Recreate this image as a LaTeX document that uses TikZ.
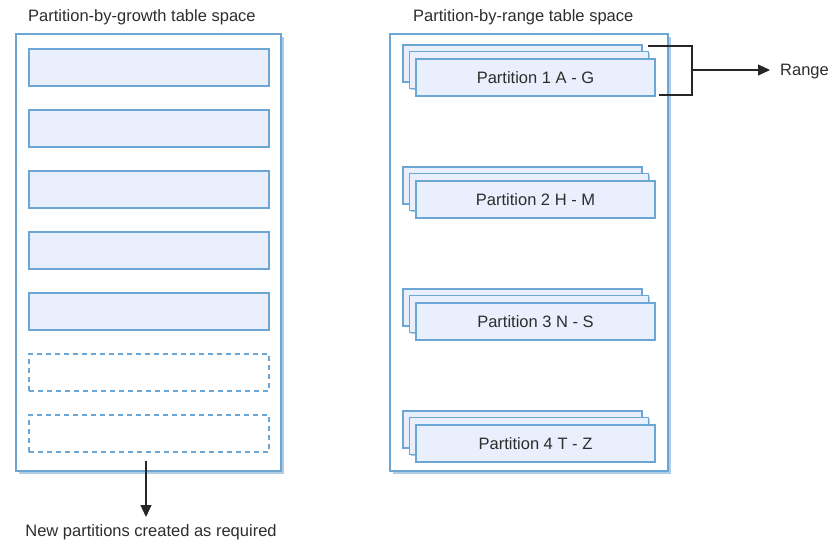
\documentclass[tikz,border=0pt]{standalone}
\usepackage{fontspec}
\setmainfont{Liberation Sans}
\usetikzlibrary{arrows.meta,shadows}
\definecolor{boxblue}{RGB}{108,166,212}
\definecolor{boxfill}{RGB}{233,239,252}
\definecolor{shadowblue}{RGB}{175,205,230}
\definecolor{txt}{RGB}{45,45,45}
\tikzset{
  container/.style={draw=boxblue, line width=1.1pt, fill=white, minimum width=265pt, minimum height=437pt, inner sep=0pt,
    general shadow={fill=shadowblue, shadow xshift=2.5pt, shadow yshift=-2.5pt}},
  part/.style={draw=boxblue, line width=1.1pt, fill=boxfill, minimum width=240pt, minimum height=37pt, inner sep=0pt,
    general shadow={fill=shadowblue, shadow xshift=1.2pt, shadow yshift=-1.2pt}},
  dpart/.style={draw=boxblue, line width=1.1pt, dash pattern=on 5pt off 4pt, minimum width=240pt, minimum height=37pt, inner sep=0pt},
  label/.style={font=\fontsize{16.5}{18}\selectfont, text=txt, inner sep=0pt},
  conn/.style={line width=1.2pt, draw=black!85},
  tip/.style={-{Triangle[length=12pt,width=11pt]}}
}
\begin{document}
\begin{tikzpicture}[x=1pt,y=-1pt]
\useasboundingbox (0,0) rectangle (833,544);
% titles
\node[label, anchor=west] (t1) at (28,17) {Partition-by-growth table space};
\node[label, anchor=west] (t2) at (413,17) {Partition-by-range table space};
% left container
\node[container] (L) at (148.5,252.5) {};
\foreach \i/\y in {1/67.5,2/128.5,3/189.5,4/250.5,5/311.5}{
  \node[part] (g\i) at (149,\y) {};
}
\node[dpart] (g6) at (149,372.5) {};
\node[dpart] (g7) at (149,433.5) {};
% right container
\node[container, minimum width=278pt] (R) at (529,252.5) {};
\foreach \i/\y/\r in {1/76.5/A - G,2/198.5/H - M,3/320.5/N - S,4/442.5/T - Z}{
  \node[part, minimum width=239pt] (p\i c) at (522.5,\y-13) {};
  \node[part, minimum width=239pt] (p\i b) at (529,\y-6.5) {};
  \node[part, minimum width=239pt, label] (p\i) at (535.5,\y+1) {Partition \i\ \r};
}
% range bracket
\coordinate (b1) at (648,46);
\coordinate (b2) at (692,46);
\coordinate (b3) at (692,95);
\coordinate (b4) at (659,95);
\coordinate (bm) at (692,70);
\draw[conn] (b1) -- (b2) -- (b3) -- (b4);
\node[label, anchor=west] (range) at (780,72) {Range};
\draw[conn, tip] (bm) -- (770,70);
% new partitions arrow
\coordinate (a0) at (146,461);
\node[label] (newp) at (151,532) {New partitions created as required};
\draw[conn, tip] (a0) -- (146,517);
\end{tikzpicture}
\end{document}
